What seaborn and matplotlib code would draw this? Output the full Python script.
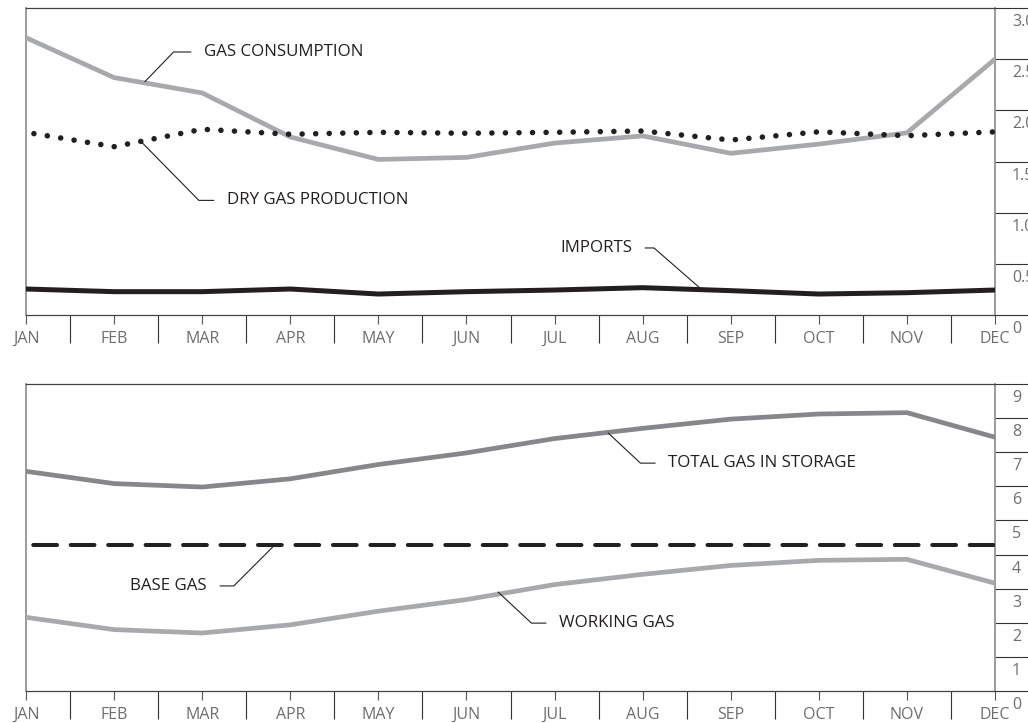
import numpy as np
import pandas as pd
import matplotlib
matplotlib.use("Agg")
import matplotlib.pyplot as plt
import matplotlib.transforms as mtransforms
import seaborn as sns

# ---------------- data ----------------
months = ["JAN", "FEB", "MAR", "APR", "MAY", "JUN", "JUL", "AUG", "SEP", "OCT", "NOV", "DEC"]
gas_consumption = [2.71, 2.32, 2.17, 1.74, 1.52, 1.54, 1.68, 1.75, 1.58, 1.67, 1.78, 2.50]
dry_gas_production = [1.785, 1.645, 1.815, 1.766, 1.785, 1.776, 1.785, 1.798, 1.71, 1.79, 1.752, 1.79]
imports = [0.254, 0.228, 0.228, 0.254, 0.205, 0.228, 0.244, 0.267, 0.238, 0.205, 0.218, 0.244]

total_gas = [6.44, 6.08, 5.98, 6.22, 6.64, 6.98, 7.40, 7.70, 7.97, 8.12, 8.16, 7.44]
base_gas = [4.29, 4.29, 4.29, 4.29, 4.29, 4.29, 4.29, 4.29, 4.29, 4.29, 4.29, 4.29]
working_gas = [2.16, 1.80, 1.70, 1.94, 2.34, 2.68, 3.12, 3.42, 3.68, 3.83, 3.86, 3.16]

top_ticks = [0, 0.5, 1.0, 1.5, 2.0, 2.5, 3.0]
top_ticklabels = ["0", "0.5", "1.0", "1.5", "2.0", "2.5", "3.0"]
bot_ticks = [0, 1, 2, 3, 4, 5, 6, 7, 8, 9]
bot_ticklabels = ["0", "1", "2", "3", "4", "5", "6", "7", "8", "9"]

# ---------------- style ----------------
sns.set_theme(style="white")
plt.rcParams["font.family"] = ["Open Sans", "DejaVu Sans"]

TXT = "#231f20"
LAB = "#6d6e71"
LIGHT = "#a7a9ac"
MID = "#86878a"

W, H = 1028, 723
fig = plt.figure(figsize=(W / 100, H / 100), dpi=100)
ax1 = fig.add_axes([26 / W, 1 - 315 / H, (995 - 26) / W, (315 - 8) / H])
ax2 = fig.add_axes([26 / W, 1 - 691 / H, (995 - 26) / W, (691 - 384) / H])

x = np.arange(len(months))
df_top = pd.DataFrame({"m": x, "cons": gas_consumption, "dry": dry_gas_production, "imp": imports})
df_bot = pd.DataFrame({"m": x, "tot": total_gas, "base": base_gas, "work": working_gas})

sns.lineplot(data=df_top, x="m", y="cons", ax=ax1, color=LIGHT, lw=3.4, zorder=3)
sns.lineplot(data=df_top, x="m", y="dry", ax=ax1, color=TXT, lw=4.0,
             linestyle=(1.0, (0.01, 2.43)), dash_capstyle="round", zorder=4)
sns.lineplot(data=df_top, x="m", y="imp", ax=ax1, color=TXT, lw=3.6, zorder=3)

sns.lineplot(data=df_bot, x="m", y="tot", ax=ax2, color=MID, lw=3.4, zorder=3)
sns.lineplot(data=df_bot, x="m", y="base", ax=ax2, color=TXT, lw=2.9,
             linestyle=(7.5, (5.9, 3.4)), dash_capstyle="round", zorder=3)
sns.lineplot(data=df_bot, x="m", y="work", ax=ax2, color=LIGHT, lw=3.4, zorder=3)

FS_ANN = 12.2
FS_TICK = 11.5


def style_axes(ax, yticks, ylabels, ymax):
    ax.set_xlim(0, 11)
    ax.set_ylim(0, ymax)
    ax.set_xlabel("")
    ax.set_ylabel("")
    ax.set_xticks(x)
    ax.set_xticklabels(months)
    ax.set_xticks(np.arange(0.5, 11, 1), minor=True)
    ax.tick_params(axis="x", which="major", direction="out", length=6.5, width=0.8,
                   color="#555555", pad=5, labelsize=FS_TICK, labelcolor=LAB, bottom=True)
    ax.tick_params(axis="x", which="minor", direction="out", length=20, width=0.8,
                   color="#333333", bottom=True)
    ax.yaxis.tick_right()
    ax.set_yticks(yticks)
    ax.set_yticklabels(ylabels)
    ax.tick_params(axis="y", which="major", direction="out", length=30, width=0.8,
                   color="#333333", pad=-17.8, labelsize=FS_TICK, labelcolor=LAB,
                   right=True, left=False)
    off = mtransforms.ScaledTranslation(0, -14 / 100, fig.dpi_scale_trans)
    for lab in ax.get_yticklabels():
        lab.set_transform(lab.get_transform() + off)
        lab.set_va("center")
    for s in ["top", "bottom"]:
        ax.spines[s].set_visible(True)
        ax.spines[s].set_color("#444444")
        ax.spines[s].set_linewidth(0.9)
    for s in ["left", "right"]:
        ax.spines[s].set_visible(True)
        ax.spines[s].set_color("#8a8a8a")
        ax.spines[s].set_linewidth(1.2)
    ax.grid(False)


style_axes(ax1, top_ticks, top_ticklabels, 3.0)
style_axes(ax2, bot_ticks, bot_ticklabels, 9.0)


def label(ax, text, xy, xytext, angleB, ha="left"):
    relpos = (0.0, 0.5) if ha == "left" else (1.0, 0.5)
    ax.annotate(text, xy=xy, xytext=xytext, ha=ha, va="center", fontsize=FS_ANN, color=TXT,
                arrowprops=dict(arrowstyle="-", color=TXT, lw=0.8, relpos=relpos,
                                shrinkA=7, shrinkB=0,
                                connectionstyle=f"angle,angleA=0,angleB={angleB},rad=0"),
                zorder=6)


label(ax1, "GAS CONSUMPTION", (1.35, 2.28), (2.02, 2.57), 46)
label(ax1, "DRY GAS PRODUCTION", (1.30, 1.70), (2.28, 1.12), -45.5)
label(ax1, "IMPORTS", (7.65, 0.264), (6.88, 0.655), 138.9, ha="right")
label(ax2, "TOTAL GAS IN STORAGE", (6.61, 7.56), (7.29, 6.68), -43)
label(ax2, "BASE GAS", (2.80, 4.22), (2.055, 3.08), -135, ha="right")
label(ax2, "WORKING GAS", (5.36, 2.90), (6.05, 1.99), -43)

fig.savefig("out.png", dpi=100)
